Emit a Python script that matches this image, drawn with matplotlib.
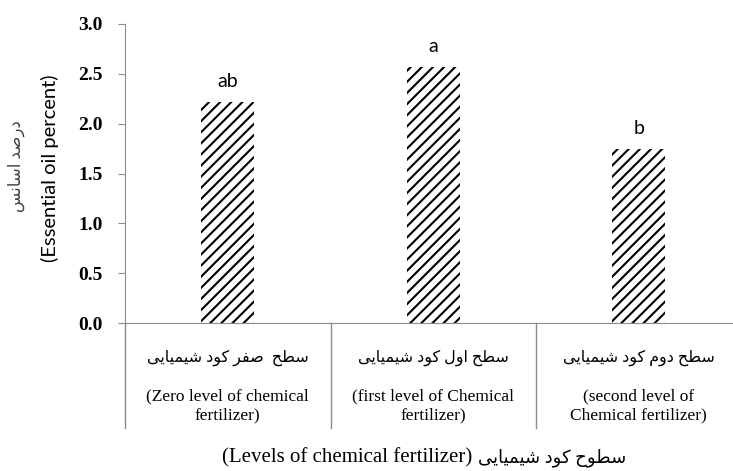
import matplotlib
matplotlib.use("Agg")
import matplotlib.pyplot as plt
import matplotlib.transforms as mtransforms

# data
levels_fa = ["سطح  صفر کود شیمیایی", "سطح اول کود شیمیایی", "سطح دوم کود شیمیایی"]
levels_en = ["(Zero level of chemical\nfertilizer)", "(first level of Chemical\nfertilizer)",
             "(second level of\nChemical fertilizer)"]
oil_percent = [2.22, 2.57, 1.75]
letters = ["ab", "a", "b"]
yticks = [0.0, 0.5, 1.0, 1.5, 2.0, 2.5, 3.0]

ylabel_fa = "درصد اسانس"
ylabel_en = "(Essential oil percent)"
xlabel_fa = "سطوح کود شیمیایی"
xlabel_en = "(Levels of chemical fertilizer)"

# minimal Persian shaping (matplotlib has no complex text layout)
FORMS = {
    'ا': ('\uFE8D', '\uFE8E', None, None),
    'د': ('\uFEA9', '\uFEAA', None, None),
    'ر': ('\uFEAD', '\uFEAE', None, None),
    'و': ('\uFEED', '\uFEEE', None, None),
    'ح': ('\uFEA1', '\uFEA2', '\uFEA3', '\uFEA4'),
    'س': ('\uFEB1', '\uFEB2', '\uFEB3', '\uFEB4'),
    'ش': ('\uFEB5', '\uFEB6', '\uFEB7', '\uFEB8'),
    'ص': ('\uFEB9', '\uFEBA', '\uFEBB', '\uFEBC'),
    'ط': ('\uFEC1', '\uFEC2', '\uFEC3', '\uFEC4'),
    'ف': ('\uFED1', '\uFED2', '\uFED3', '\uFED4'),
    'ل': ('\uFEDD', '\uFEDE', '\uFEDF', '\uFEE0'),
    'م': ('\uFEE1', '\uFEE2', '\uFEE3', '\uFEE4'),
    'ن': ('\uFEE5', '\uFEE6', '\uFEE7', '\uFEE8'),
    'ک': ('\uFB8E', '\uFB8F', '\uFB90', '\uFB91'),
    'ی': ('\uFBFC', '\uFBFD', '\uFBFE', '\uFBFF'),
}


def shape(text):
    out = []
    for i, ch in enumerate(text):
        if ch not in FORMS:
            out.append(ch)
            continue
        prev = text[i - 1] if i > 0 else None
        nxt = text[i + 1] if i + 1 < len(text) else None
        join_prev = prev in FORMS and FORMS[prev][2] is not None
        join_next = nxt in FORMS and FORMS[ch][2] is not None
        iso, fin, ini, med = FORMS[ch]
        if join_prev and join_next:
            out.append(med)
        elif join_prev:
            out.append(fin)
        elif join_next:
            out.append(ini)
        else:
            out.append(iso)
    return "".join(out)[::-1]


serif = ["Liberation Serif", "DejaVu Sans"]
sans = ["Lato", "DejaVu Sans"]
plt.rcParams["hatch.linewidth"] = 1.5

fig = plt.figure(figsize=(7.33, 4.71), dpi=100)
ax = fig.add_axes([125 / 733, 148 / 471, 608 / 733, 299 / 471])

x = range(len(oil_percent))
ax.bar(x, oil_percent, width=0.26, color="white", edgecolor="black",
       linewidth=0, hatch="///")

for xi, v, lt in zip(x, oil_percent, letters):
    ax.text(xi, v + 0.15, lt, ha="center", va="baseline", fontsize=14, family=sans)

ax.set_xlim(-0.5, -0.5 + 608 / 205.5)
ax.set_ylim(0, 3.0)
ax.set_yticks(yticks)
ax.set_yticklabels([f"{t:.1f}" for t in yticks], family=serif, fontweight="bold",
                   fontsize=14)
ax.set_xticks([])

axis_gray = "#8c8c8c"
for s in ["top", "right"]:
    ax.spines[s].set_visible(False)
ax.spines["left"].set_color(axis_gray)
ax.spines["bottom"].set_color(axis_gray)
ax.tick_params(axis="y", length=5, color=axis_gray, pad=11)

# category divider lines below the axis
trans = mtransforms.blended_transform_factory(ax.transData, ax.transAxes)
for b in [-0.5, 0.5, 1.5, 2.5]:
    ax.plot([b, b], [0, -0.352], transform=trans, color=axis_gray, lw=1, clip_on=False)

for xi, fa, en in zip(x, levels_fa, levels_en):
    ax.text(xi, -0.118, shape(fa), transform=trans, ha="center", va="center",
            fontsize=11.5, family=serif)
    ax.text(xi, -0.277, en, transform=trans, ha="center", va="center",
            fontsize=12.5, family=serif, linespacing=1.26)

fig.text(222 / 733, 1 - 458 / 471, xlabel_en, ha="left", va="center",
         fontsize=15, family=serif)
fig.text(478 / 733, 1 - 458 / 471, shape(xlabel_fa), ha="left", va="center",
         fontsize=13, family=serif)
fig.text(50 / 733, 1 - 168 / 471, ylabel_en, rotation=90, ha="center", va="center",
         fontsize=14.5, family=sans)
fig.text(16 / 733, 1 - 166 / 471, shape(ylabel_fa), rotation=90, ha="center",
         va="center", fontsize=12, family=serif, color="#444444")

fig.savefig("out.png", dpi=100)
